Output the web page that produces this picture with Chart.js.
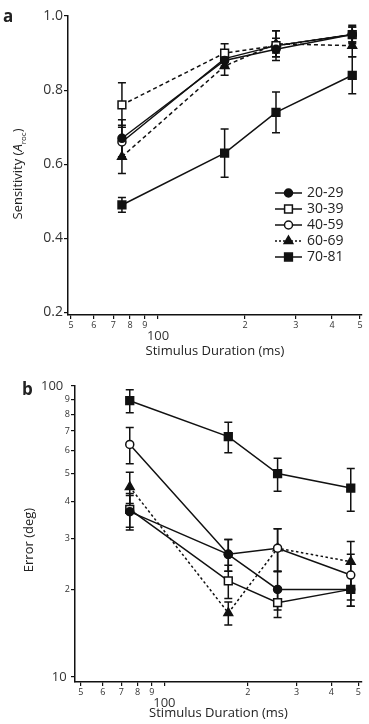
<!DOCTYPE html>
<html>
<head>
<meta charset="utf-8">
<script src="https://cdn.jsdelivr.net/npm/chart.js@4.4.1/dist/chart.umd.min.js"></script>
<style>
  body { margin: 0; background: #fff; width: 369px; height: 724px; position: relative; overflow: hidden;
         font-family: 'Open Sans', sans-serif; color: #222; }
  canvas { position: absolute; left: 0; }
  #chartA { top: 0; }
  #chartB { top: 370px; }
  .panel { position: absolute; font-weight: bold; font-size: 17px; line-height: 1; }
  .ytitle { position: absolute; white-space: nowrap; font-size: 13px; line-height: 1;
            transform: translate(-50%, -50%) rotate(-90deg); }
  .ytitle sub { font-size: 8px; }
</style>
</head>
<body>
<canvas id="chartA" width="369" height="362"></canvas>
<canvas id="chartB" width="369" height="354"></canvas>
<div class="panel" style="left:3px;top:7px">a</div>
<div class="panel" style="left:22px;top:380px">b</div>
<div class="ytitle" style="left:19px;top:174px">Sensitivity (<i>A</i><sub>roc</sub>)</div>
<div class="ytitle" style="left:28px;top:540px">Error (deg)</div>
<script>
// stimulus durations (ms) and age groups
const durations = [75, 170, 256, 470];
const groups = ['20-29', '30-39', '40-59', '60-69', '70-81'];

// panel a: sensitivity (A_roc) and error bars
const sens2029 = [0.67, 0.88, 0.91, 0.95];
const sens3039 = [0.76, 0.90, 0.92, 0.95];
const sens4059 = [0.66, 0.885, 0.92, 0.95];
const sens6069 = [0.62, 0.865, 0.925, 0.92];
const sens7081 = [0.49, 0.63, 0.74, 0.84];
const sensErr2029 = [0.05, 0.02, 0.02, 0.02];
const sensErr3039 = [0.06, 0.025, 0.04, 0.025];
const sensErr4059 = [0.045, 0.02, 0.02, 0.02];
const sensErr6069 = [0.045, 0.025, 0.035, 0.03];
const sensErr7081 = [0.02, 0.065, 0.055, 0.05];

// panel b: error (deg) and error bars
const err2029 = [37, 26.4, 20, 20];
const err3039 = [37.7, 21.4, 18, 20];
const err4059 = [63, 26.4, 27.7, 22.4];
const err6069 = [45, 16.6, 27.7, 24.9];
const err7081 = [89, 67, 50, 44.6];
const errErr2029 = [5, 3.3, 3, 2.5];
const errErr3039 = [5, 2.8, 2, 2.5];
const errErr4059 = [9, 3.3, 4.6, 4];
const errErr6069 = [5.5, 1.5, 4.6, 4.3];
const errErr7081 = [8, 8, 6.5, 7.5];

// axis ticks
const xTicks = [50, 60, 70, 80, 90, 100, 200, 300, 400, 500];
const xTickLabels = ['5', '6', '7', '8', '9', '100', '2', '3', '4', '5'];
const sensTicks = [0.2, 0.4, 0.6, 0.8, 1.0];
const sensTickLabels = ['0.2', '0.4', '0.6', '0.8', '1.0'];
const errTicks = [10, 20, 30, 40, 50, 60, 70, 80, 90, 100];
const errTickLabels = ['10 ', '2', '3', '4', '5', '6', '7', '8', '9', '100  '];

const INK = '#111';
const FONT = "'Open Sans', sans-serif";

// marker style for each group
const markers = [
  { pointStyle: 'circle', fill: INK, radius: 4 },
  { pointStyle: 'rect', fill: '#fff', radius: 5.5 },
  { pointStyle: 'circle', fill: '#fff', radius: 4 },
  { pointStyle: 'triangle', fill: INK, radius: 5 },
  { pointStyle: 'rect', fill: INK, radius: 5.5 }
];
const dashA = [[], [4, 3], [], [4, 3], []];
const dashB = [[], [], [], [2.5, 2.5], []];
const legendDash = [[], [], [], [2, 2], []];

function makeDatasets(series, errors, dashes) {
  return series.map((vals, i) => ({
    label: groups[i],
    data: vals.map((v, j) => ({ x: durations[j], y: v })),
    errors: errors[i],
    borderColor: INK,
    borderWidth: 1.5,
    borderDash: dashes[i],
    pointStyle: markers[i].pointStyle,
    pointRadius: markers[i].radius,
    pointBackgroundColor: markers[i].fill,
    pointBorderColor: INK,
    pointBorderWidth: 1.5,
    tension: 0,
    clip: false
  }));
}

// vertical error bars with caps
const errorBars = {
  id: 'errorBars',
  beforeDatasetsDraw(chart) {
    const { ctx, scales: { x, y } } = chart;
    ctx.save();
    ctx.strokeStyle = INK;
    ctx.lineWidth = 1.5;
    chart.data.datasets.forEach(ds => {
      ds.data.forEach((p, i) => {
        const px = x.getPixelForValue(p.x);
        const top = y.getPixelForValue(p.y + ds.errors[i]);
        const bot = y.getPixelForValue(p.y - ds.errors[i]);
        ctx.beginPath();
        ctx.moveTo(px, top); ctx.lineTo(px, bot);
        ctx.moveTo(px - 4, top); ctx.lineTo(px + 4, top);
        ctx.moveTo(px - 4, bot); ctx.lineTo(px + 4, bot);
        ctx.stroke();
      });
    });
    ctx.restore();
  }
};

function drawMarker(ctx, style, cx, cy) {
  ctx.save();
  ctx.fillStyle = style.fill;
  ctx.strokeStyle = INK;
  ctx.lineWidth = 1.5;
  ctx.beginPath();
  if (style.pointStyle === 'circle') {
    ctx.arc(cx, cy, style.radius, 0, Math.PI * 2);
  } else if (style.pointStyle === 'rect') {
    const h = style.radius * Math.SQRT1_2;
    ctx.rect(cx - h, cy - h, 2 * h, 2 * h);
  } else {
    const r = style.radius;
    ctx.moveTo(cx, cy - r);
    ctx.lineTo(cx + r * 0.866, cy + r * 0.5);
    ctx.lineTo(cx - r * 0.866, cy + r * 0.5);
    ctx.closePath();
  }
  ctx.fill();
  ctx.stroke();
  ctx.restore();
}

// legend drawn as line + marker + text, like the original
const sideLegend = {
  id: 'sideLegend',
  afterDraw(chart, args, opts) {
    if (!opts.show) return;
    const ctx = chart.ctx;
    groups.forEach((g, i) => {
      const y = opts.y + i * opts.gap;
      ctx.save();
      ctx.strokeStyle = INK;
      ctx.lineWidth = 1.5;
      ctx.setLineDash(legendDash[i]);
      ctx.beginPath();
      ctx.moveTo(opts.x, y); ctx.lineTo(opts.x + 27, y);
      ctx.stroke();
      ctx.restore();
      drawMarker(ctx, markers[i], opts.x + 13.5, y);
      ctx.save();
      ctx.fillStyle = '#222';
      ctx.font = '14px ' + FONT;
      ctx.textBaseline = 'middle';
      ctx.fillText(g, opts.x + 32, y + 0.5);
      ctx.restore();
    });
  }
};

function xAxis(min, max, boxHeight) {
  return {
    type: 'logarithmic',
    min: min, max: max,
    bounds: 'data',
    afterBuildTicks: s => { s.ticks = xTicks.map(v => ({ value: v })); },
    afterFit: s => { s.height = boxHeight; s.paddingLeft = 0; s.paddingRight = 0; },
    ticks: {
      autoSkip: false, maxRotation: 0, padding: 1, color: '#333',
      callback: (v, i) => (xTickLabels[i] === '100' ? ['', '100'] : xTickLabels[i]),
      font: c => (c.tick && c.tick.value === 100)
        ? { family: FONT, size: 13, lineHeight: 0.85 }
        : { family: FONT, size: 9 }
    },
    grid: { drawOnChartArea: false, drawTicks: true, tickLength: 4, color: INK, lineWidth: 1.2 },
    border: { display: true, color: INK, width: 1.5 },
    title: { display: true, text: 'Stimulus Duration (ms)', color: '#222',
             font: { family: FONT, size: 13 }, padding: { top: 0, bottom: 3 } }
  };
}

function baseOptions(xScale, yScale, legendOpts) {
  return {
    responsive: false,
    animation: false,
    devicePixelRatio: 1,
    layout: { padding: { top: 16, right: 0, left: 0, bottom: 0 } },
    plugins: { legend: { display: false }, tooltip: { enabled: false }, sideLegend: legendOpts },
    scales: { x: xScale, y: yScale }
  };
}

// panel a
new Chart(document.getElementById('chartA'), {
  type: 'line',
  data: {
    datasets: makeDatasets(
      [sens2029, sens3039, sens4059, sens6069, sens7081],
      [sensErr2029, sensErr3039, sensErr4059, sensErr6069, sensErr7081],
      dashA)
  },
  options: baseOptions(
    xAxis(48.8, 508, 47),
    {
      type: 'linear', min: 0.193, max: 1.0, bounds: 'data',
      afterBuildTicks: s => { s.ticks = sensTicks.map(v => ({ value: v })); },
      afterFit: s => { s.width = 68; s.paddingTop = 0; s.paddingBottom = 0; },
      ticks: { padding: 1, color: '#333', font: { family: FONT, size: 14 },
               callback: (v, i) => sensTickLabels[i] },
      grid: { drawOnChartArea: false, drawTicks: true, tickLength: 4, color: INK, lineWidth: 1.2 },
      border: { display: true, color: INK, width: 1.5 }
    },
    { show: true, x: 275, y: 193, gap: 16 }
  ),
  plugins: [errorBars, sideLegend]
});

// panel b
new Chart(document.getElementById('chartB'), {
  type: 'line',
  data: {
    datasets: makeDatasets(
      [err2029, err3039, err4059, err6069, err7081],
      [errErr2029, errErr3039, errErr4059, errErr6069, errErr7081],
      dashB)
  },
  options: baseOptions(
    xAxis(47.6, 516, 42),
    {
      type: 'logarithmic', min: 9.61, max: 100, bounds: 'data',
      afterBuildTicks: s => { s.ticks = errTicks.map(v => ({ value: v })); },
      afterFit: s => { s.width = 75; s.paddingTop = 0; s.paddingBottom = 0; },
      ticks: { padding: 1, color: '#333', autoSkip: false,
               callback: (v, i) => errTickLabels[i],
               font: c => (c.tick && (c.tick.value === 100 || c.tick.value === 10))
                 ? { family: FONT, size: 13 } : { family: FONT, size: 9 } },
      grid: { drawOnChartArea: false, drawTicks: true, tickLength: 4, color: INK, lineWidth: 1.2 },
      border: { display: true, color: INK, width: 1.5 }
    },
    { show: false }
  ),
  plugins: [errorBars, sideLegend]
});
</script>
</body>
</html>
